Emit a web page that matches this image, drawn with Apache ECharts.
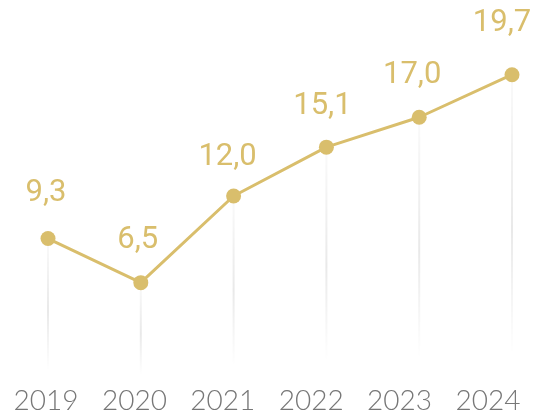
<!DOCTYPE html>
<html><head><meta charset="utf-8">
<script src="https://cdn.jsdelivr.net/npm/echarts@6/dist/echarts.min.js"></script>
<style>html,body{margin:0;padding:0;background:#fff}#c{width:548px;height:415px}</style>
</head><body><div id="c"></div>
<script>
const years = ['2019','2020','2021','2022','2023','2024'];
const values = [9.3, 6.5, 12.0, 15.1, 17.0, 19.7];

// label placement tweaks (style only)
const labelShift = [[-2,-3],[-3,0],[-6,3],[-4,1],[-7,0],[-10,-9]];

const gold = '#D9BE6C';
const chart = echarts.init(document.getElementById('c'));
chart.setOption({
  animation: false,
  grid: [
    {left: 48, right: 36, top: 70, bottom: 30},
    {left: 46, right: 60, top: 380, bottom: 35}
  ],
  xAxis: [
    {gridIndex: 0, type: 'category', data: years, boundaryGap: false,
     axisLine: {show: false}, axisTick: {show: false}, axisLabel: {show: false}, splitLine: {show: false}},
    {gridIndex: 1, type: 'category', data: years, boundaryGap: false,
     axisLine: {show: false}, axisTick: {show: false}, splitLine: {show: false},
     axisLabel: {show: true, margin: 7, fontFamily: 'Lato', fontWeight: 300, fontSize: 28, color: '#777'}}
  ],
  yAxis: [
    {gridIndex: 0, type: 'value', min: 0, max: 20, show: false},
    {gridIndex: 1, type: 'value', show: false}
  ],
  series: [
    {
      type: 'bar', xAxisIndex: 0, yAxisIndex: 0, data: values, barWidth: 2, z: 1,
      itemStyle: {color: {type: 'linear', x: 0, y: 0, x2: 0, y2: 1,
        colorStops: [
          {offset: 0, color: 'rgba(0,0,0,0.02)'},
          {offset: 0.5, color: 'rgba(0,0,0,0.085)'},
          {offset: 0.9, color: 'rgba(0,0,0,0)'},
          {offset: 1, color: 'rgba(0,0,0,0)'}
        ]}}
    },
    {
      type: 'line', xAxisIndex: 0, yAxisIndex: 0, z: 3,
      data: values.map((v, i) => ({value: v, label: {offset: labelShift[i]}})),
      symbol: 'circle', symbolSize: 15,
      lineStyle: {color: gold, width: 3},
      itemStyle: {color: gold},
      label: {show: true, position: 'top', distance: 19, color: gold,
        fontFamily: 'Roboto', fontWeight: 400, fontSize: 31,
        formatter: p => p.value.toFixed(1).replace('.', ',')}
    }
  ]
});
</script></body></html>
